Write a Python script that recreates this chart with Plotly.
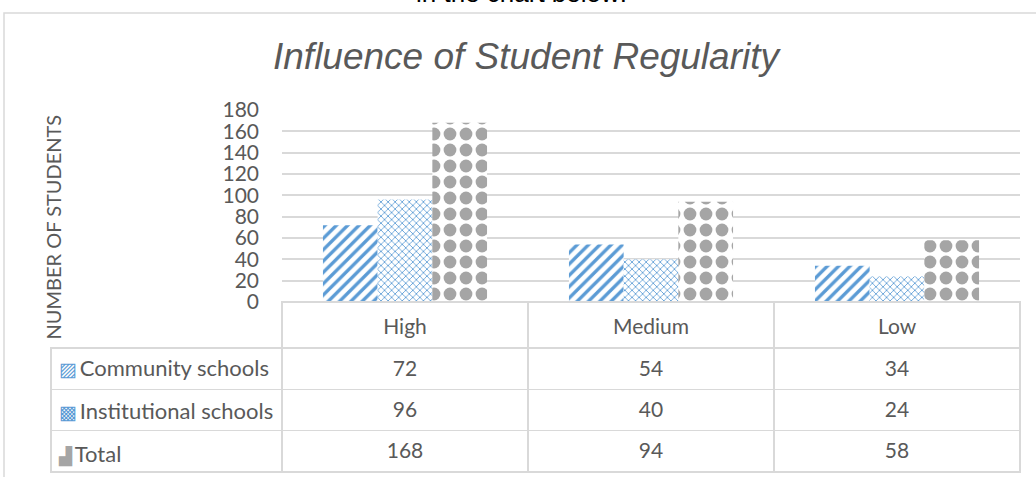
import plotly.graph_objects as go

# Student regularity counts by school type
categories = ["High", "Medium", "Low"]
community = [72, 54, 34]
institutional = [96, 40, 24]
total = [168, 94, 58]
series_names = ["Community schools", "Institutional schools", "Total"]
y_ticks = [0, 20, 40, 60, 80, 100, 120, 140, 160, 180]

BLUE = "#5B9BD5"
GREY = "#A5A5A5"
TEXT = "#595959"
LINE = "#D9D9D9"

W, H = 1036, 477
ML, MR, MT, MB = 51, 16, 110, 0
PW, PH = W - ML - MR, H - MT - MB
AXIS_LEFT = 282      # pixel x where the bar plot begins
AXIS_BOTTOM = 302    # pixel y of the value 0
COL_W = [AXIS_LEFT - ML, 246, 246, 246]
HEAD_H, ROW_H = 46, 41.3
TEXT_DROP_HEAD, TEXT_DROP_ROW = 8, 4   # lower the table text inside its cells
NAME_LIFT = 6                          # the name column renders a little low


def px_x(x):
    return (x - ML) / PW


def px_y(y):
    return (H - MB - y) / PH


ydom0 = px_y(AXIS_BOTTOM)

fig = go.Figure()

fig.add_trace(go.Bar(
    x=categories, y=community, name=series_names[0],
    marker=dict(color="white", line=dict(width=0),
                pattern=dict(shape="/", fgcolor=BLUE, bgcolor="white",
                             fgopacity=1, size=8, solidity=0.42,
                             fillmode="replace")),
))
fig.add_trace(go.Bar(
    x=categories, y=institutional, name=series_names[1],
    marker=dict(color="white", line=dict(width=0),
                pattern=dict(shape="x", fgcolor=BLUE, bgcolor="white",
                             fgopacity=1, size=5, solidity=0.3,
                             fillmode="replace")),
))
fig.add_trace(go.Bar(
    x=categories, y=total, name=series_names[2],
    marker=dict(color="white", line=dict(width=0),
                pattern=dict(shape=".", fgcolor=GREY, bgcolor="white",
                             fgopacity=1, size=16, solidity=0.5,
                             fillmode="replace")),
))

# data table under the bars: one layer draws the cell borders,
# further layers on top carry the text
keys = [
    f"<span style='color:{BLUE};font-size:19px'>▨</span>",
    f"<span style='color:{BLUE};font-size:19px'>▩</span>",
    f"<span style='color:{GREY};font-size:17px'>▟</span>",
]
first_col = [k + "\u2009" + name + "<br>" for k, name in zip(keys, series_names)]
rows = [community, institutional, total]
value_cols = [[str(r[i]) for r in rows] for i in range(len(categories))]
n_rows = len(rows)
blank = "rgba(0,0,0,0)"
font = dict(family="Lato", size=21, color=TEXT)
name_font = dict(family="Lato", size=22, color=TEXT)
split = px_x(AXIS_LEFT)

fig.add_trace(go.Table(
    domain=dict(x=[0, 1], y=[0, ydom0]),
    columnwidth=COL_W,
    header=dict(values=[""] * 4, height=HEAD_H,
                line=dict(color=[blank, LINE, LINE, LINE], width=1.5),
                fill=dict(color=blank)),
    cells=dict(values=[[""] * n_rows] * 4, height=ROW_H,
               line=dict(color=LINE, width=1.5),
               fill=dict(color="white")),
))

# category headers and values
fig.add_trace(go.Table(
    domain=dict(x=[split, 1], y=[0, px_y(AXIS_BOTTOM + TEXT_DROP_HEAD)]),
    columnwidth=COL_W[1:],
    header=dict(values=categories,
                height=HEAD_H - TEXT_DROP_HEAD + TEXT_DROP_ROW,
                align="center",
                line=dict(color=blank, width=0), fill=dict(color=blank),
                font=font),
    cells=dict(values=value_cols, height=ROW_H, align="center",
               line=dict(color=blank, width=0), fill=dict(color=blank),
               font=font),
))

# series names with their keys
fig.add_trace(go.Table(
    domain=dict(x=[0, split],
                y=[0, px_y(AXIS_BOTTOM + TEXT_DROP_HEAD - NAME_LIFT)]),
    columnwidth=[COL_W[0]],
    header=dict(values=[""], height=HEAD_H - TEXT_DROP_HEAD + TEXT_DROP_ROW,
                line=dict(color=blank, width=0), fill=dict(color=blank)),
    cells=dict(values=[first_col], height=ROW_H, align="left",
               line=dict(color=blank, width=0), fill=dict(color=blank),
               font=name_font),
))

fig.update_layout(
    width=W, height=H,
    margin=dict(l=ML, r=MR, t=MT, b=MB, autoexpand=False),
    paper_bgcolor="white", plot_bgcolor="white",
    barmode="group", bargap=0.333, bargroupgap=0,
    showlegend=False,
    xaxis=dict(domain=[split, 1], showticklabels=False,
               showgrid=False, zeroline=False, showline=False, ticks=""),
    yaxis=dict(domain=[ydom0, 1], range=[0, 180], tickvals=y_ticks,
               showgrid=True, gridcolor=LINE, gridwidth=1.5,
               zeroline=False, showline=False, ticks="",
               ticklabelstandoff=22,
               tickfont=dict(family="Lato", size=21, color=TEXT)),
    font=dict(family="Lato", color=TEXT),
)

# outer chart frame
fig.add_shape(type="rect", xref="paper", yref="paper",
              x0=px_x(4), x1=px_x(W + 20), y0=px_y(H + 20), y1=px_y(13),
              line=dict(color=LINE, width=1.5), fillcolor="rgba(0,0,0,0)",
              layer="below")

# caption line of the surrounding text
fig.add_annotation(text="in the chart below:", xref="paper", yref="paper",
                   x=px_x(521), y=px_y(-7), xanchor="center", yanchor="middle",
                   showarrow=False,
                   font=dict(family="Liberation Sans", size=26, color="#000000"))

fig.add_annotation(text="<i>Influence of Student Regularity</i>",
                   xref="paper", yref="paper",
                   x=px_x(527), y=px_y(57), xanchor="center", yanchor="middle",
                   showarrow=False,
                   font=dict(family="Liberation Sans", size=37, color=TEXT))

fig.add_annotation(text="NUMBER OF STUDENTS", textangle=-90,
                   xref="paper", yref="paper",
                   x=px_x(52.5), y=px_y(227), xanchor="center", yanchor="middle",
                   showarrow=False,
                   font=dict(family="Lato", size=20, color=TEXT))

fig.write_html("out.html")
